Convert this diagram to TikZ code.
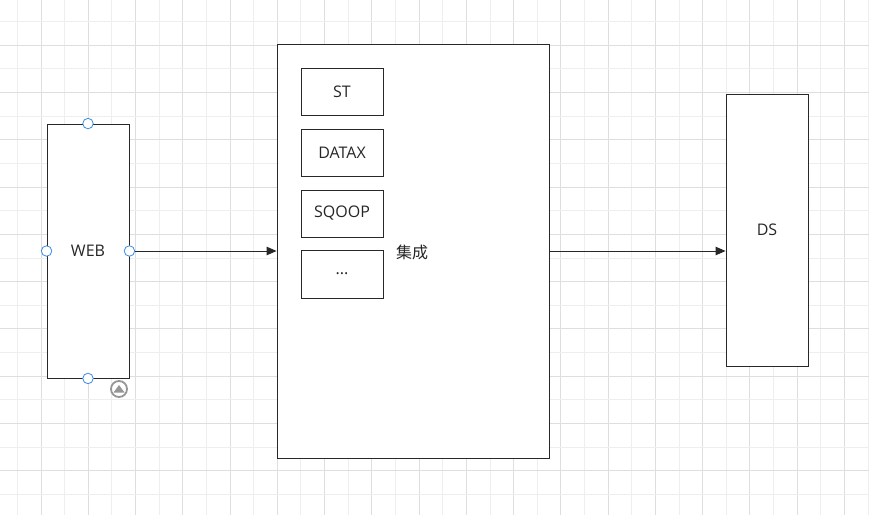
\documentclass[tikz,border=0pt]{standalone}
\usepackage{fontspec}
\setmainfont{Open Sans}
\newfontfamily\cjk{Noto Sans CJK SC}
\usetikzlibrary{arrows.meta}
\definecolor{gridlight}{RGB}{238, 238, 238}
\definecolor{griddark}{RGB}{222, 222, 222}
\definecolor{boxline}{RGB}{40, 40, 40}
\definecolor{portblue}{RGB}{60, 140, 230}
\definecolor{knobgray}{RGB}{150, 150, 150}

\begin{document}
\begin{tikzpicture}[x=1pt, y=-1pt,
  block/.style={draw=boxline, line width=0.9pt, fill=white, inner sep=0pt, font=\fontsize{16}{18}\selectfont, text=black!85},
  port/.style={circle, draw=portblue, fill=white, line width=0.8pt, inner sep=0pt, minimum size=10.5pt},
  flow/.style={-{Triangle[length=10pt, width=8.5pt]}, line width=0.9pt, draw=boxline}]
  \useasboundingbox (0,0) rectangle (869,515);
  \fill[white] (0,0) rectangle (869,515);

  % 网格
  \foreach \k in {0,...,36} {
    \pgfmathsetmacro{\gx}{17.3+23.63*\k}
    \ifodd\k \def\gc{griddark}\else\def\gc{gridlight}\fi
    \draw[\gc, line width=0.8pt] (\gx,0) -- (\gx,515);
  }
  \foreach \k in {0,...,21} {
    \pgfmathsetmacro{\gy}{21.6+23.63*\k}
    \ifodd\k \def\gc{griddark}\else\def\gc{gridlight}\fi
    \draw[\gc, line width=0.8pt] (0,\gy) -- (869,\gy);
  }

  % 主要模块
  \node[block, minimum width=82pt, minimum height=254pt] (web) at (88,251) {WEB};
  \node[block, minimum width=272pt, minimum height=414pt] (integ) at (413,251) {};
  \node[block, minimum width=82pt, minimum height=272pt] (ds) at (767,230) {DS};

  % 集成工具
  \node[block, minimum width=82pt, minimum height=47pt] (st) at (342,91.5) {ST};
  \node[block, minimum width=82pt, minimum height=47pt] (datax) at (342,152.5) {DATAX};
  \node[block, minimum width=82pt, minimum height=47pt] (sqoop) at (342,213.5) {SQOOP};
  \node[block, minimum width=82pt, minimum height=48pt] (more) at (342,274) {...};
  \node[font=\cjk\fontsize{16}{18}\selectfont, text=black!85] (integlabel) at (412,252) {集成};

  % 连线
  \draw[flow] (web.east) -- (integ.west);
  \coordinate (dsin) at (ds.west |- integ.east);
  \draw[flow] (integ.east) -- (dsin);

  % 选中时的连接点
  \node[port] (pn) at (web.north) {};
  \node[port] (ps) at (web.south) {};
  \node[port] (pw) at (web.west) {};
  \node[port] (pe) at (web.east) {};

  \node[circle, draw=knobgray, fill=white, line width=1.8pt, minimum size=16pt, inner sep=0pt] (knob) at (119,389) {};
  \fill[knobgray] (113.5,392.5) -- (124.5,392.5) -- (119,385) -- cycle;
\end{tikzpicture}
\end{document}
